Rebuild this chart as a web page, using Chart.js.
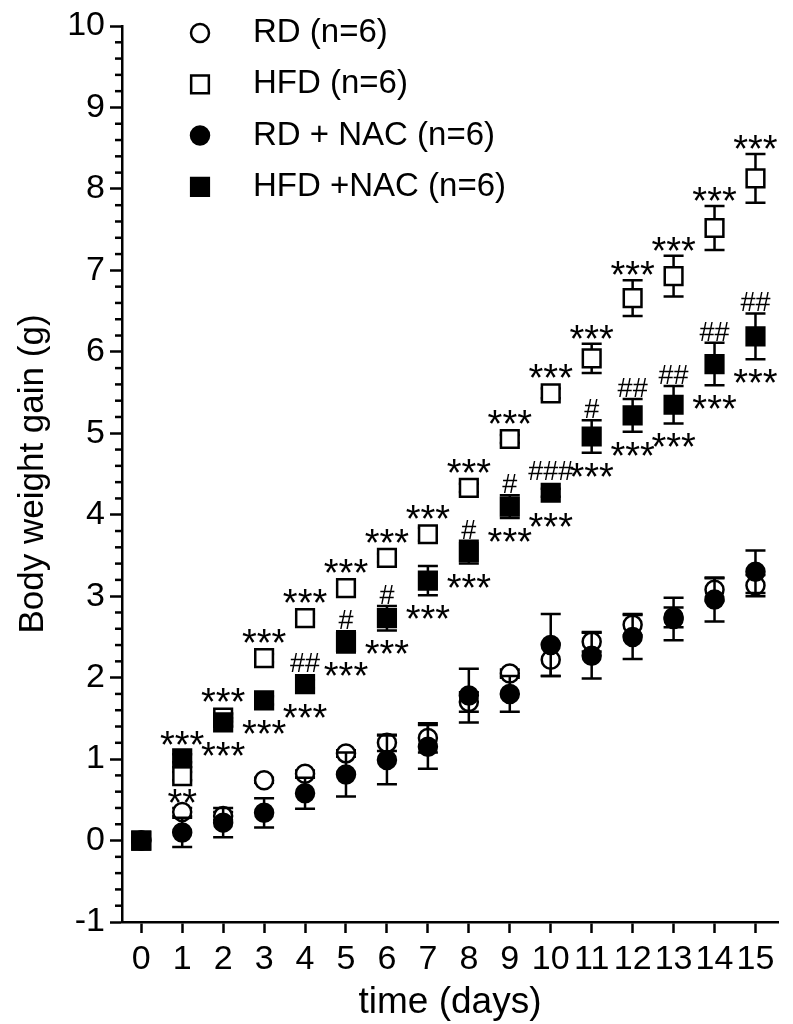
<!DOCTYPE html>
<html>
<head>
<meta charset="utf-8">
<script src="https://cdn.jsdelivr.net/npm/chart.js@4.4.1/dist/chart.umd.min.js"></script>
<style>
html,body{margin:0;padding:0;background:#fff;}
#wrap{width:793px;height:1024px;position:relative;}
</style>
</head>
<body>
<div id="wrap"><canvas id="c" width="793" height="1024"></canvas></div>
<script>
// ---- data ----
const days = [0,1,2,3,4,5,6,7,8,9,10,11,12,13,14,15];
const rdMean     = [0,0.35,0.30,0.74,0.82,1.07,1.20,1.26,1.70,2.05,2.22,2.44,2.65,2.74,3.08,3.13];
const rdErr      = [0,0.05,0.05,0.03,0.04,0.04,0.10,0.18,0.12,0.05,0.20,0.12,0.13,0.12,0.14,0.13];
const hfdMean    = [0,0.79,1.51,2.24,2.73,3.10,3.47,3.76,4.33,4.93,5.49,5.92,6.66,6.93,7.52,8.13];
const hfdErr     = [0,0.05,0.05,0.05,0.05,0.05,0.05,0.08,0.05,0.05,0.06,0.18,0.22,0.25,0.27,0.30];
const rdNacMean  = [0,0.10,0.22,0.34,0.58,0.81,0.99,1.15,1.78,1.80,2.40,2.27,2.50,2.72,2.96,3.30];
const rdNacErr   = [0,0.18,0.18,0.18,0.19,0.27,0.30,0.27,0.33,0.22,0.38,0.28,0.27,0.26,0.27,0.26];
const hfdNacMean = [0,1.01,1.45,1.72,1.92,2.44,2.73,3.19,3.54,4.10,4.27,4.96,5.22,5.35,5.85,6.19];
const hfdNacErr  = [0,0.05,0.05,0.05,0.05,0.13,0.15,0.18,0.14,0.14,0.05,0.20,0.20,0.23,0.26,0.28];

const seriesLabels = ['RD (n=6)','HFD (n=6)','RD + NAC (n=6)','HFD +NAC (n=6)'];

// significance marks
const hfdStarText    = ['','**','***','***','***','***','***','***','***','***','***','***','***','***','***','***'];
const hfdStarPos     = ['','below','above','above','above','above','above','above','above','above','above','above','above','above','above','above'];
const hfdNacStarText = ['','***','***','***','***','***','***','***','***','***','***','***','***','***','***','***'];
const hfdNacStarPos  = ['','above','below','below','below','below','below','below','below','below','below','below','below','below','below','below'];
const hfdNacHashText = ['','','','','##','#','#','','#','#','###','#','##','##','##','##'];

const yTickValues = [-1,0,1,2,3,4,5,6,7,8,9,10];
const xTickValues = days;

// ---- styling ----
const FONT = "'Liberation Sans', Arial, Helvetica, sans-serif";
Chart.defaults.font.family = FONT;
Chart.defaults.color = '#000';
const LW = 2.5;
const CIRCLE_R = 9;
const SQUARE_R = 12.5;

const pts = arr => days.map((d,i)=>({x:d, y:arr[i]}));

const errs = [rdErr, hfdErr, rdNacErr, hfdNacErr];
const means = [rdMean, hfdMean, rdNacMean, hfdNacMean];

const datasets = [
  {label:seriesLabels[0], data:pts(rdMean), pointStyle:'circle', pointRadius:CIRCLE_R, backgroundColor:'#fff', borderColor:'#000', borderWidth:LW, order:4},
  {label:seriesLabels[1], data:pts(hfdMean), pointStyle:'rect', pointRadius:SQUARE_R, backgroundColor:'#fff', borderColor:'#000', borderWidth:LW, order:3},
  {label:seriesLabels[2], data:pts(rdNacMean), pointStyle:'circle', pointRadius:CIRCLE_R, backgroundColor:'#000', borderColor:'#000', borderWidth:LW, order:2},
  {label:seriesLabels[3], data:pts(hfdNacMean), pointStyle:'rect', pointRadius:SQUARE_R, backgroundColor:'#000', borderColor:'#000', borderWidth:LW, order:1}
];

// error bars, drawn just before each dataset's markers
const errorBarPlugin = {
  id:'errorBars',
  beforeDatasetDraw(chart, args){
    const i = args.index;
    const e = errs[i], m = means[i];
    const xs = chart.scales.x, ys = chart.scales.y, ctx = chart.ctx;
    ctx.save();
    ctx.strokeStyle = '#000'; ctx.lineWidth = LW; ctx.lineCap = 'butt';
    days.forEach((d,k)=>{
      if (!e[k]) return;
      const x = xs.getPixelForValue(d);
      const y1 = ys.getPixelForValue(m[k]+e[k]);
      const y2 = ys.getPixelForValue(m[k]-e[k]);
      ctx.beginPath();
      ctx.moveTo(x,y1); ctx.lineTo(x,y2);
      ctx.moveTo(x-10,y1); ctx.lineTo(x+10,y1);
      ctx.moveTo(x-10,y2); ctx.lineTo(x+10,y2);
      ctx.stroke();
    });
    ctx.restore();
  }
};

// minor ticks on y axis
const minorTickPlugin = {
  id:'minorTicks',
  afterDraw(chart){
    const ys = chart.scales.y, ctx = chart.ctx, left = chart.chartArea.left;
    ctx.save();
    ctx.strokeStyle = '#000'; ctx.lineWidth = LW;
    for (let k = yTickValues[0]*5; k <= yTickValues[yTickValues.length-1]*5; k++){
      if (k % 5 === 0) continue;
      const y = ys.getPixelForValue(k/5);
      ctx.beginPath(); ctx.moveTo(left-7, y); ctx.lineTo(left, y); ctx.stroke();
    }
    ctx.restore();
  }
};

// significance labels
const annotationPlugin = {
  id:'annot',
  afterDatasetsDraw(chart){
    const xs = chart.scales.x, ys = chart.scales.y, ctx = chart.ctx;
    const half = SQUARE_R*Math.SQRT1_2 + LW/2;
    const top = (m,e)=>Math.min(ys.getPixelForValue(m)-half, ys.getPixelForValue(m+e));
    const bot = (m,e)=>Math.max(ys.getPixelForValue(m)+half, ys.getPixelForValue(m-e));
    const starSize = 38, hashSize = 27;
    ctx.save();
    ctx.fillStyle = '#000'; ctx.textAlign = 'center'; ctx.textBaseline = 'alphabetic';
    const star = (txt, x, cy)=>{ ctx.font = starSize+'px '+FONT; ctx.fillText(txt, x, cy + 0.55*starSize); };
    const hash = (txt, x, cy)=>{ ctx.font = hashSize+'px '+FONT; ctx.fillText(txt, x, cy + 0.36*hashSize); };
    days.forEach((d,k)=>{
      const x = xs.getPixelForValue(d);
      if (hfdStarText[k]) {
        const cy = hfdStarPos[k]==='above' ? top(hfdMean[k],hfdErr[k]) - 13 : bot(hfdMean[k],hfdErr[k]) + 9;
        star(hfdStarText[k], x, cy);
      }
      if (hfdNacStarText[k]) {
        const cy = hfdNacStarPos[k]==='above' ? top(hfdNacMean[k],hfdNacErr[k]) - 11 : bot(hfdNacMean[k],hfdNacErr[k]) + 16;
        star(hfdNacStarText[k], x, cy);
      }
      if (hfdNacHashText[k]) {
        hash(hfdNacHashText[k], x, top(hfdNacMean[k],hfdNacErr[k]) - 12);
      }
    });
    ctx.restore();
  }
};

// legend inside the plot area
const legendPlugin = {
  id:'insideLegend',
  afterDraw(chart){
    const ctx = chart.ctx;
    const mx = 200, tx = 253, y0 = 33, step = 51.3;
    ctx.save();
    chart.data.datasets.forEach((ds,i)=>{
      const y = y0 + i*step;
      ctx.lineWidth = LW; ctx.strokeStyle = '#000'; ctx.fillStyle = ds.backgroundColor;
      ctx.beginPath();
      if (ds.pointStyle === 'circle') {
        ctx.arc(mx, y, ds.pointRadius, 0, Math.PI*2);
      } else {
        const s = ds.pointRadius*Math.SQRT1_2;
        ctx.rect(mx-s, y-s, 2*s, 2*s);
      }
      ctx.fill(); ctx.stroke();
      ctx.fillStyle = '#000';
      ctx.font = '33px '+FONT; ctx.textAlign = 'left'; ctx.textBaseline = 'middle';
      ctx.fillText(ds.label, tx, y);
    });
    ctx.restore();
  }
};

new Chart(document.getElementById('c'), {
  type:'scatter',
  data:{datasets},
  plugins:[errorBarPlugin, minorTickPlugin, annotationPlugin, legendPlugin],
  options:{
    responsive:false,
    animation:false,
    devicePixelRatio:1,
    layout:{padding:{top:26,right:0,left:0,bottom:0}},
    plugins:{legend:{display:false}, tooltip:{enabled:false}},
    scales:{
      x:{
        type:'linear', min:-0.47, max:15.55,
        afterBuildTicks: s => { s.ticks = xTickValues.map(v=>({value:v})); },
        afterFit: s => { s.height = 102; },
        ticks:{font:{size:34}, color:'#000', padding:6, maxRotation:0, autoSkip:false, includeBounds:false},
        grid:{drawOnChartArea:false, drawTicks:true, tickLength:11, tickWidth:LW, tickColor:'#000'},
        border:{display:true, width:LW, color:'#000'},
        title:{display:true, text:'time (days)', font:{size:37}, color:'#000', padding:{top:0,bottom:-1}}
      },
      y:{
        type:'linear', min:-1, max:10,
        afterBuildTicks: s => { s.ticks = yTickValues.map(v=>({value:v})); },
        afterFit: s => { s.width = 122; },
        ticks:{font:{size:34}, color:'#000', padding:5},
        grid:{drawOnChartArea:false, drawTicks:true, tickLength:12, tickWidth:LW, tickColor:'#000'},
        border:{display:true, width:LW, color:'#000'},
        title:{display:true, text:'Body weight gain (g)', font:{size:35}, color:'#000', padding:{top:12,bottom:0}}
      }
    }
  }
});
</script>
</body>
</html>
